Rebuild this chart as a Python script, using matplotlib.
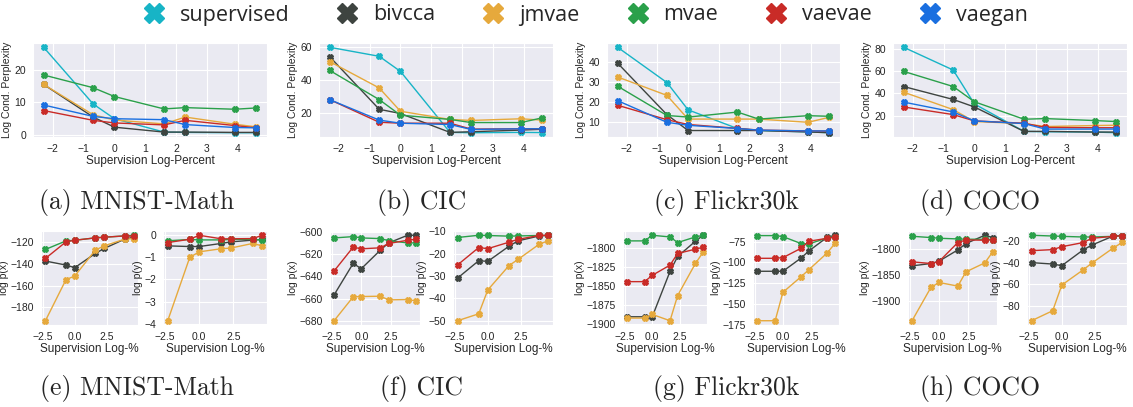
import matplotlib
matplotlib.use("Agg")
import matplotlib.pyplot as plt
from matplotlib.lines import Line2D
import seaborn as sns

sns.set_style("darkgrid")
plt.rcParams["font.family"] = ["Liberation Sans", "DejaVu Sans"]

# supervision percentages 0.1, 0.5, 1, 5, 10, 50, 100 on a log scale
log_pct = [-2.30, -0.69, 0.0, 1.61, 2.30, 3.91, 4.61]

models = ["supervised", "bivcca", "jmvae", "mvae", "vaevae", "vaegan"]
colors = {
    "supervised": "#17b4c6",
    "bivcca": "#3e4440",
    "jmvae": "#e6a93c",
    "mvae": "#2aa04a",
    "vaevae": "#c92b27",
    "vaegan": "#1a6fe0",
}

# ---- top row: log conditional perplexity ----
mnist_ppl = {
    "supervised": [26.9, 9.5, 5.0, 0.9, 0.8, 0.7, 0.7],
    "bivcca": [15.5, 5.5, 2.4, 0.9, 0.9, 0.8, 0.8],
    "jmvae": [15.5, 6.2, 4.6, 3.4, 5.5, 3.3, 2.5],
    "mvae": [18.4, 14.5, 11.8, 8.0, 8.4, 7.9, 8.3],
    "vaevae": [7.5, 4.5, 3.7, 3.1, 4.5, 2.9, 2.2],
    "vaegan": [9.2, 5.7, 5.0, 4.7, 3.2, 2.3, 2.2],
}
cic_ppl = {
    "supervised": [60.0, 54.5, 45.3, 8.1, 7.9, 8.1, 8.0],
    "bivcca": [54.3, 22.2, 19.6, 8.1, 8.5, 9.5, 10.0],
    "jmvae": [51.3, 35.2, 21.0, 16.0, 15.4, 16.4, 15.6],
    "mvae": [45.9, 28.1, 18.6, 16.0, 14.1, 14.1, 17.0],
    "vaevae": [28.1, 14.3, 13.7, 13.7, 10.1, 10.3, 10.3],
    "vaegan": [28.1, 15.6, 13.7, 12.9, 9.9, 10.3, 10.3],
}
flickr_ppl = {
    "supervised": [47.4, 29.8, 16.2, 6.9, 5.9, 5.2, 4.8],
    "bivcca": [39.5, 13.8, 5.9, 5.9, 5.9, 5.2, 4.8],
    "jmvae": [32.6, 23.4, 11.6, 11.6, 11.6, 10.0, 12.5],
    "mvae": [28.0, 13.4, 12.6, 15.1, 11.6, 13.3, 13.0],
    "vaevae": [18.5, 11.3, 8.9, 7.0, 6.1, 5.7, 5.6],
    "vaegan": [20.8, 10.0, 8.5, 6.9, 6.1, 5.7, 5.7],
}
coco_ppl = {
    "supervised": [81.8, 61.2, 30.5, 5.7, 5.4, 5.1, 4.5],
    "bivcca": [46.3, 34.6, 27.8, 5.7, 5.7, 5.1, 5.1],
    "jmvae": [41.2, 25.4, 14.6, 12.8, 10.1, 11.0, 11.3],
    "mvae": [60.0, 46.3, 32.5, 16.7, 17.3, 15.5, 14.6],
    "vaevae": [27.8, 20.9, 15.2, 13.1, 9.3, 9.0, 9.0],
    "vaegan": [32.2, 23.3, 15.2, 12.8, 7.8, 7.8, 7.8],
}

# ---- bottom row: marginal log likelihoods ----
mnist_px = {
    "bivcca": [-137.4, -141.1, -143.5, -130.4, -125.8, -117.2, -115.4],
    "jmvae": [-192.5, -154.6, -151.2, -127.3, -123.4, -117.2, -116.6],
    "mvae": [-126.7, -118.8, -118.2, -116.0, -115.4, -114.2, -113.6],
    "vaevae": [-135.0, -119.7, -118.2, -116.0, -115.4, -114.2, -114.5],
}
mnist_py = {
    "bivcca": [-0.48, -0.51, -0.51, -0.37, -0.30, -0.22, -0.19],
    "jmvae": [-3.87, -1.00, -0.75, -0.61, -0.58, -0.37, -0.48],
    "mvae": [-0.25, -0.19, -0.21, -0.21, -0.19, -0.18, -0.22],
    "vaevae": [-0.33, -0.18, 0.00, -0.16, -0.16, -0.15, 0.00],
}
cic_px = {
    "bivcca": [-656.7, -628.4, -633.1, -616.4, -609.9, -603.0, -603.0],
    "jmvae": [-680.0, -658.5, -658.2, -657.9, -661.2, -660.9, -662.1],
    "mvae": [-605.4, -604.2, -605.4, -606.0, -607.8, -609.9, -609.9],
    "vaevae": [-635.2, -613.7, -615.2, -614.3, -610.4, -607.5, -606.6],
}
cic_py = {
    "bivcca": [-30.9, -23.1, -23.4, -16.6, -14.2, -12.0, -11.7],
    "jmvae": [-50.0, -46.9, -36.2, -25.3, -22.5, -15.7, -14.1],
    "mvae": [-12.7, -11.7, -11.8, -12.1, -12.0, -11.8, -11.8],
    "vaevae": [-25.0, -17.2, -17.7, -14.8, -13.5, -11.8, -11.7],
}
flickr_px = {
    "bivcca": [-1890.4, -1890.4, -1890.4, -1830.6, -1810.9, -1790.8, -1783.0],
    "jmvae": [-1892.1, -1892.1, -1887.3, -1895.6, -1862.4, -1820.1, -1805.2],
    "mvae": [-1790.4, -1790.4, -1783.0, -1785.2, -1792.6, -1785.2, -1783.0],
    "vaevae": [-1844.1, -1844.1, -1835.8, -1822.3, -1807.0, -1801.3, -1798.7],
}
flickr_py = {
    "bivcca": [-110.7, -110.7, -110.7, -94.7, -86.2, -69.8, -67.4],
    "jmvae": [-170.2, -170.2, -136.0, -117.2, -108.7, -88.7, -77.0],
    "mvae": [-67.8, -67.8, -69.0, -77.4, -77.8, -70.6, -69.0],
    "vaevae": [-95.1, -95.1, -94.3, -83.0, -74.6, -71.0, -69.8],
}
coco_px = {
    "bivcca": [-1832.5, -1828.0, -1823.6, -1801.9, -1789.8, -1773.9, -1778.3],
    "jmvae": [-1937.6, -1873.9, -1864.3, -1871.3, -1844.0, -1826.8, -1805.1],
    "mvae": [-1775.8, -1778.3, -1779.6, -1780.9, -1781.5, -1781.5, -1782.2],
    "vaevae": [-1824.8, -1828.0, -1824.2, -1787.9, -1782.8, -1783.4, -1782.8],
}
coco_py = {
    "bivcca": [-40.1, -41.4, -42.9, -28.4, -23.7, -15.4, -15.0],
    "jmvae": [-94.0, -84.7, -60.9, -46.9, -40.4, -26.5, -21.2],
    "mvae": [-14.7, -15.4, -15.7, -16.3, -16.3, -15.7, -15.0],
    "vaevae": [-29.0, -28.0, -25.3, -21.5, -17.5, -15.7, -15.0],
}

top_panels = [mnist_ppl, cic_ppl, flickr_ppl, coco_ppl]
top_yticks = [[0, 10, 20], [20, 40, 60], [10, 20, 30, 40], [20, 40, 60, 80]]
bottom_panels = [mnist_px, mnist_py, cic_px, cic_py,
                 flickr_px, flickr_py, coco_px, coco_py]
bottom_yticks = [
    [-180, -160, -140, -120],
    [-4, -3, -2, -1, 0],
    [-680, -660, -640, -620, -600],
    [-50, -40, -30, -20, -10],
    [-1900, -1875, -1850, -1825, -1800],
    [-175, -150, -125, -100, -75],
    [-1900, -1850, -1800],
    [-80, -60, -40, -20],
]
top_captions = ["(a) MNIST-Math", "(b) CIC", "(c) Flickr30k", "(d) COCO"]
bottom_captions = ["(e) MNIST-Math", "(f) CIC", "(g) Flickr30k", "(h) COCO"]

W, H = 1133, 407
fig = plt.figure(figsize=(W / 100, H / 100), dpi=100)


def px_axes(x0, x1, y0, y1):
    return fig.add_axes([x0 / W, 1 - y1 / H, (x1 - x0) / W, (y1 - y0) / H])


def draw(ax, data, yticks):
    for m in models:
        if m in data:
            ax.plot(log_pct, data[m], color=colors[m], marker="X",
                    markersize=4, linewidth=1.0)
    ax.set_yticks(yticks)
    ax.tick_params(labelsize=7.5, pad=1.5)


# top row
top_x = [(33, 267), (319, 553), (607, 840), (893, 1127)]
for (x0, x1), data, yt in zip(top_x, top_panels, top_yticks):
    ax = px_axes(x0, x1, 43, 137)
    draw(ax, data, yt)
    ax.set_xticks([-2, -1, 0, 1, 2, 3, 4])
    ax.set_xlabel("Supervision Log-Percent", fontsize=8.5, labelpad=1)
    ax.set_ylabel("Log Cond. Perplexity", fontsize=7.5, labelpad=2)

# bottom row
bot_x = [(41, 138), (163, 267), (330, 420), (453, 553),
         (623, 707), (753, 839), (908, 997), (1027, 1127)]
for i, ((x0, x1), data, yt) in enumerate(zip(bot_x, bottom_panels,
                                              bottom_yticks)):
    ax = px_axes(x0, x1, 231, 325)
    draw(ax, data, yt)
    ax.set_xticks([-2.5, 0.0, 2.5])
    ax.set_xticklabels(["\u22122.5", "0.0", "2.5"])
    ax.set_xlabel("Supervision Log-%", fontsize=8.5, labelpad=1)
    ax.set_ylabel("log p(x)" if i % 2 == 0 else "log p(y)",
                  fontsize=7.5, labelpad=1)

# captions
cap_x = [137, 422, 726, 980]
for cx, t in zip(cap_x, top_captions):
    fig.text(cx / W, 1 - 202 / H, t, ha="center", va="center",
             family="cmr10", fontsize=18.5)
for cx, t in zip(cap_x, bottom_captions):
    fig.text(cx / W, 1 - 389 / H, t, ha="center", va="center",
             family="cmr10", fontsize=18.5)

# legend
handles = [Line2D([], [], color=colors[m], marker="X", linestyle="none",
                  markersize=15) for m in models]
fig.legend(handles, models, loc="center", bbox_to_anchor=(580 / W, 1 - 15 / H),
           ncol=6, frameon=False, handletextpad=0.2,
           columnspacing=1.7, prop={"family": "Open Sans", "size": 15.5})

fig.savefig("out.png", dpi=100)
